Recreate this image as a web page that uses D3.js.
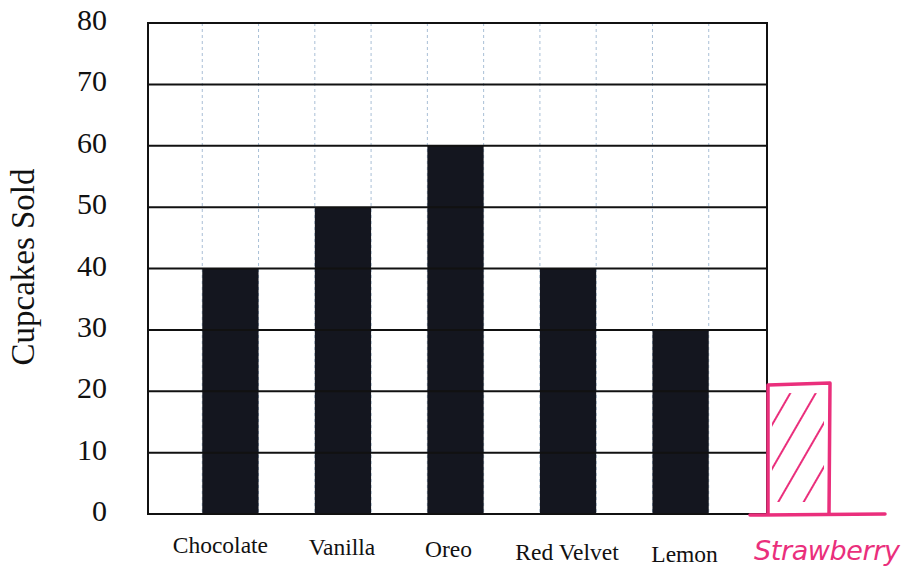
<!DOCTYPE html>
<html><head><meta charset="utf-8">
<script src="https://cdn.jsdelivr.net/npm/d3@7"></script>
<style>body{margin:0;background:#fff}svg{display:block}</style>
</head><body>
<svg id="c" width="903" height="570"></svg>
<script>
const categories = ["Chocolate","Vanilla","Oreo","Red Velvet","Lemon"];
const values = [40,50,60,40,30];
const yTicks = [0,10,20,30,40,50,60,70,80];
const extraCategory = "Strawberry";
const extraValue = 21;

const svg = d3.select("#c");
const x0 = 148, x1 = 767, yTop = 23, yBot = 514;
const y = d3.scaleLinear().domain([0,80]).range([yBot,yTop]);
const x = d3.scaleBand().domain(categories).range([x0-2,x1-2]).paddingInner(0.5).paddingOuter(0.5);
const cols = d3.scaleLinear().domain([0,11]).range([x0-2,x1-2]);
const serif = "'Liberation Serif','Times New Roman',serif";
const pink = "#ea2f7c";

// dotted vertical grid
svg.append("g").selectAll("line").data(d3.range(1,11)).join("line")
  .attr("x1",d=>cols(d)).attr("x2",d=>cols(d)).attr("y1",yTop).attr("y2",yBot)
  .attr("stroke","#a9bfd6").attr("stroke-width",1).attr("stroke-dasharray","3,3");

// bars
svg.append("g").selectAll("rect").data(values).join("rect")
  .attr("x",(d,i)=>x(categories[i])).attr("width",x.bandwidth())
  .attr("y",d=>y(d)).attr("height",d=>yBot-y(d)).attr("fill","#14161f");

// horizontal grid
svg.append("g").selectAll("line").data(yTicks).join("line")
  .attr("x1",x0).attr("x2",x1).attr("y1",d=>y(d)).attr("y2",d=>y(d))
  .attr("stroke","#111").attr("stroke-width",2);
// frame
svg.append("rect").attr("x",x0).attr("y",yTop).attr("width",x1-x0).attr("height",yBot-yTop)
  .attr("fill","none").attr("stroke","#111").attr("stroke-width",2);

// y axis labels
svg.append("g").selectAll("text").data(yTicks).join("text")
  .attr("x",107).attr("y",d=>y(d)+7).attr("text-anchor","end")
  .attr("font-family",serif).attr("font-size",30).attr("fill","#111").text(d=>d);

svg.append("text").attr("transform","translate(34,267) rotate(-90)")
  .attr("text-anchor","middle").attr("font-family",serif).attr("font-size",33).attr("fill","#111")
  .text("Cupcakes Sold");

// x labels
const labelDx = [-10,-1,-7,-1,4];
const labelY = [553,555,557,560,562];
svg.append("g").selectAll("text").data(categories).join("text")
  .attr("x",(d,i)=>x(d)+x.bandwidth()/2+labelDx[i]).attr("y",(d,i)=>labelY[i])
  .attr("text-anchor","middle").attr("font-family",serif).attr("font-size",23.5).attr("fill","#111")
  .text(d=>d);

// strawberry hand-drawn
const defs = svg.append("defs");
const pat = defs.append("pattern").attr("id","hatch").attr("patternUnits","userSpaceOnUse")
  .attr("width",22).attr("height",22).attr("patternTransform","rotate(30)");
pat.append("line").attr("x1",0).attr("y1",0).attr("x2",0).attr("y2",22)
  .attr("stroke",pink).attr("stroke-width",4);
const sx = x1 + 1, sw = 62;
svg.append("rect").attr("x",sx+4).attr("y",y(extraValue)+8).attr("width",sw-10).attr("height",yBot-y(extraValue)-20)
  .attr("fill","url(#hatch)");
svg.append("path")
  .attr("d",`M${sx},${yBot} L${sx},${y(extraValue)} L${sx+sw},${y(extraValue)-2} L${sx+sw-1},${yBot}`)
  .attr("fill","none").attr("stroke",pink).attr("stroke-width",3.5).attr("stroke-linejoin","round");
svg.append("line").attr("x1",750).attr("x2",885).attr("y1",yBot+1).attr("y2",yBot)
  .attr("stroke",pink).attr("stroke-width",3.5).attr("stroke-linecap","round");
svg.append("text").attr("x",827).attr("y",560).attr("text-anchor","middle")
  .attr("font-family","'DejaVu Sans',sans-serif").attr("font-weight","300").attr("font-style","italic")
  .attr("font-size",27).attr("fill",pink).attr("textLength",146).text(extraCategory);
</script>
</body></html>
